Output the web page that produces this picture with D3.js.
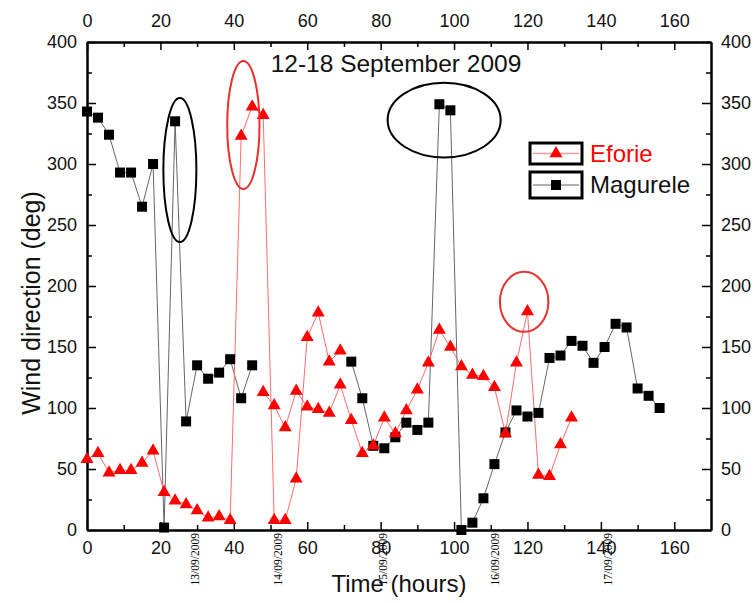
<!DOCTYPE html>
<html>
<head>
<meta charset="utf-8">
<script src="https://cdn.jsdelivr.net/npm/d3@7"></script>
<style>
  body { margin: 0; background: #fff; }
  svg { display: block; font-family: "Liberation Sans", Arial, sans-serif; }
</style>
</head>
<body>
<div id="chart"></div>
<script>
// Magurele (black squares), null = no data
const magTime = [0,3,6,9,12,15,18,21,24,27,30,33,36,39,42,45,48,51,54,57,60,63,66,69,
                 72,75,78,81,84,87,90,93,96,99,102,105,108,111,114,117,120,123,126,129,132,135,138,141,144,147,150,153,156];
const magDir = [343,338,324,293,293,265,300,2,335,89,135,124,129,140,108,135,
                null,null,null,null,null,null,null,null,
                138,108,69,67,76,88,82,88,349,344,0,6,26,54,80,98,93,96,141,143,155,151,137,150,169,166,116,110,100];

// Eforie (red triangles), two traces
const eforieTime1 = [0,3,6,9,12,15,18,21,24,27,30,33,36,39,42,45,48,51,54,57,60,63,66,69];
const eforieDir1 = [58,63,47,49,49,55,65,31,24,21,16,10,11,8,323,347,340,8,8,42,158,178,138,147];
const eforieTime2 = [48,51,54,57,60,63,66,69,72,75,78,81,84,87,90,93,96,99,102,105,108,111,114,117,120,123,126,129,132];
const eforieDir2 = [113,102,84,114,101,99,96,119,90,63,69,92,79,98,115,137,164,150,134,127,126,117,79,137,179,45,44,70,92];

// tick values and date labels
const xTicks = [0,20,40,60,80,100,120,140,160];
const xMinor = [10,30,50,70,90,110,130,150];
const yTicks = [0,50,100,150,200,250,300,350,400];
const yMinor = [25,75,125,175,225,275,325,375];
const dateLabels = ["13/09/2009","14/09/2009","15/09/2009","16/09/2009","17/09/2009"];
const dateHours = [29.4,52.1,80.7,111.2,142];

// highlight ellipses: centre (hours, deg), radii (hours, deg)
const ellCx = [25.3, 42.6, 97.3, 119.1];
const ellCy = [295, 332, 336, 187];
const ellRx = [4.5, 4.4, 15.4, 6.6];
const ellRy = [59, 52.5, 30.6, 24.6];
const ellColor = ["#000", "#e8302c", "#000", "#e8302c"];

const width = 755, height = 603;
const margin = { top: 42, right: 44, bottom: 73, left: 87 };
const iw = width - margin.left - margin.right;
const ih = height - margin.top - margin.bottom;

const svg = d3.select("#chart").append("svg")
  .attr("width", width).attr("height", height);
const g = svg.append("g").attr("transform", `translate(${margin.left},${margin.top})`);

const x = d3.scaleLinear().domain([0, 170]).range([0, iw]);
const y = d3.scaleLinear().domain([0, 400]).range([ih, 0]);

// axes (ticks pointing inward)
function styleAxis(sel) {
  sel.selectAll("path.domain").attr("stroke", "#000").attr("stroke-width", 2);
  sel.selectAll(".tick line").attr("stroke", "#000").attr("stroke-width", 1.5);
  sel.selectAll(".tick text").attr("font-size", 18).attr("fill", "#111")
    .attr("font-family", '"Liberation Sans", Arial, sans-serif');
}
g.append("g").attr("transform", `translate(0,${ih})`)
  .call(d3.axisBottom(x).tickValues(xTicks).tickSize(-8).tickSizeOuter(0).tickPadding(11)).call(styleAxis);
g.append("g")
  .call(d3.axisTop(x).tickValues(xTicks).tickSize(-8).tickSizeOuter(0).tickPadding(15)).call(styleAxis);
g.append("g")
  .call(d3.axisLeft(y).tickValues(yTicks).tickSize(-9).tickSizeOuter(0).tickPadding(10)).call(styleAxis);
g.append("g").attr("transform", `translate(${iw},0)`)
  .call(d3.axisRight(y).tickValues(yTicks).tickSize(-9).tickSizeOuter(0).tickPadding(10)).call(styleAxis);

// minor ticks
g.append("g").attr("transform", `translate(0,${ih})`)
  .call(d3.axisBottom(x).tickValues(xMinor).tickSize(-5).tickSizeOuter(0).tickFormat("")).call(styleAxis);
g.append("g")
  .call(d3.axisTop(x).tickValues(xMinor).tickSize(-5).tickSizeOuter(0).tickFormat("")).call(styleAxis);
g.append("g")
  .call(d3.axisLeft(y).tickValues(yMinor).tickSize(-5).tickSizeOuter(0).tickFormat("")).call(styleAxis);
g.append("g").attr("transform", `translate(${iw},0)`)
  .call(d3.axisRight(y).tickValues(yMinor).tickSize(-5).tickSizeOuter(0).tickFormat("")).call(styleAxis);

// date labels under the x axis
g.selectAll(".date")
  .data(dateLabels)
  .enter().append("text")
  .attr("class", "date")
  .attr("transform", (d, i) => `translate(${x(dateHours[i]) + 4},${ih + 3}) rotate(-90)`)
  .attr("text-anchor", "end")
  .attr("font-family", '"Liberation Serif", "Times New Roman", serif')
  .attr("font-size", 11.5)
  .attr("fill", "#000")
  .text(d => d);

// series
const magData = magTime.map((t, i) => ({ t: t, v: magDir[i] }));
const ef1 = eforieTime1.map((t, i) => ({ t: t, v: eforieDir1[i] }));
const ef2 = eforieTime2.map((t, i) => ({ t: t, v: eforieDir2[i] }));

const line = d3.line().defined(d => d.v != null).x(d => x(d.t)).y(d => y(d.v));

g.append("path").datum(magData)
  .attr("fill", "none").attr("stroke", "#666").attr("stroke-width", 1)
  .attr("d", line);
g.append("path").datum(ef1)
  .attr("fill", "none").attr("stroke", "#ff6b6b").attr("stroke-width", 1)
  .attr("d", line);
g.append("path").datum(ef2)
  .attr("fill", "none").attr("stroke", "#ff6b6b").attr("stroke-width", 1)
  .attr("d", line);

const sq = d3.symbol(d3.symbolSquare, 100);
const tri = d3.symbol(d3.symbolTriangle, 73);

g.selectAll(".mag")
  .data(magData.filter(d => d.v != null))
  .enter().append("path")
  .attr("class", "mag")
  .attr("transform", d => `translate(${x(d.t)},${y(d.v)})`)
  .attr("d", sq).attr("fill", "#000");

g.selectAll(".ef")
  .data(ef1.concat(ef2))
  .enter().append("path")
  .attr("class", "ef")
  .attr("transform", d => `translate(${x(d.t)},${y(d.v)})`)
  .attr("d", tri).attr("fill", "#ff0000");

// ellipses
g.selectAll(".ell")
  .data(ellCx)
  .enter().append("ellipse")
  .attr("cx", d => x(d))
  .attr("cy", (d, i) => y(ellCy[i]))
  .attr("rx", (d, i) => x(ellRx[i]) - x(0))
  .attr("ry", (d, i) => y(0) - y(ellRy[i]))
  .attr("fill", "none")
  .attr("stroke", (d, i) => ellColor[i])
  .attr("stroke-width", 2);

// title
svg.append("text")
  .attr("x", 396).attr("y", 72)
  .attr("text-anchor", "middle")
  .attr("font-size", 24.5).attr("fill", "#111")
  .text("12-18 September 2009");

// axis titles
svg.append("text")
  .attr("x", 399).attr("y", 592)
  .attr("text-anchor", "middle")
  .attr("font-size", 24).attr("fill", "#111")
  .text("Time (hours)");
svg.append("text")
  .attr("transform", "translate(40,303) rotate(-90)")
  .attr("text-anchor", "middle")
  .attr("font-size", 25).attr("fill", "#111")
  .text("Wind direction (deg)");

// legend
const legend = svg.append("g");
const legendItems = [
  { name: "Eforie", color: "#ff0000", line: "#ff9a9a", sym: tri, top: 143, h: 21 },
  { name: "Magurele", color: "#111", line: "#999", sym: sq, top: 172, h: 26 }
];
legendItems.forEach(it => {
  const cy = it.top + it.h / 2;
  legend.append("rect")
    .attr("x", 530).attr("y", it.top).attr("width", 52).attr("height", it.h)
    .attr("fill", "#fff").attr("stroke", "#000").attr("stroke-width", 3);
  legend.append("line")
    .attr("x1", 533).attr("x2", 579).attr("y1", cy).attr("y2", cy)
    .attr("stroke", it.line).attr("stroke-width", 1.5);
  legend.append("path")
    .attr("transform", `translate(556,${cy})`)
    .attr("d", it.sym).attr("fill", it.name === "Eforie" ? "#ff0000" : "#000");
  legend.append("text")
    .attr("x", 590).attr("y", cy + 8)
    .attr("font-size", 24).attr("fill", it.color)
    .text(it.name);
});
</script>
</body>
</html>
